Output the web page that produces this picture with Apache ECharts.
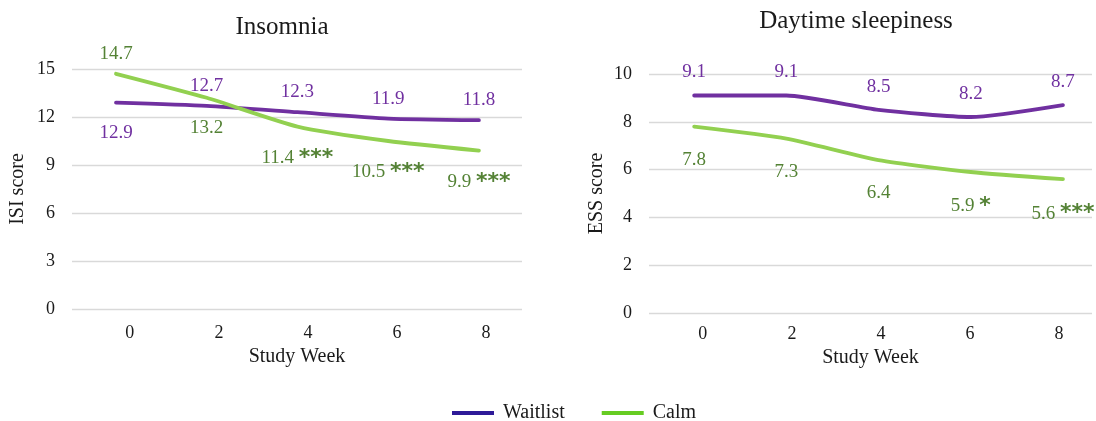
<!DOCTYPE html>
<html><head><meta charset="utf-8">
<script src="https://cdn.jsdelivr.net/npm/echarts@6/dist/echarts.min.js"></script>
<style>html,body{margin:0;padding:0;background:#fff}#c{width:1096px;height:421px}</style>
</head><body><div id="c"></div>
<script>
// ---- data ----
const weeks = [0, 2, 4, 6, 8];
const isiWaitlist = [12.9, 12.7, 12.3, 11.9, 11.8];
const isiCalm = [14.7, 13.2, 11.4, 10.5, 9.9];
const isiCalmSig = ['', '', '***', '***', '***'];
const isiWaitlistSig = ['', '', '', '', ''];
const essWaitlist = [9.1, 9.1, 8.5, 8.2, 8.7];
const essCalm = [7.8, 7.3, 6.4, 5.9, 5.6];
const essCalmSig = ['', '', '', '*', '***'];
const essWaitlistSig = ['', '', '', '', ''];
const isiTicks = [0, 3, 6, 9, 12, 15];
const essTicks = [0, 2, 4, 6, 8, 10];
const titles = ['Insomnia', 'Daytime sleepiness'];
const yNames = ['ISI score', 'ESS score'];
const xName = 'Study Week';
const seriesNames = ['Waitlist', 'Calm'];

// ---- styles ----
const SERIF = '"Liberation Serif", "Times New Roman", serif';
const PURPLE = '#7030A0', GREEN = '#92D050';
const PURPLE_TXT = '#7030A0', GREEN_TXT = '#548235';
const TXT = '#1a1a1a';

const chart = echarts.init(document.getElementById('c'), null, {renderer: 'canvas'});

function mkSeries(name, vals, sig, gi, color, tcolor, pos, dTop, dBot, starDx) {
  return {
    type: 'line', name: name, xAxisIndex: gi * 2, yAxisIndex: gi,
    data: vals.map((v, i) => ({
      value: [weeks[i], v],
      label: {position: pos[i], distance: pos[i] === 'top' ? dTop : dBot,
              offset: sig[i] ? [starDx, 0] : [0, 0]}
    })),
    showSymbol: true, showAllSymbol: true, symbol: 'circle', symbolSize: 1, smooth: 0.2,
    lineStyle: {color: color, width: 3.8, cap: 'round'},
    itemStyle: {color: color, borderWidth: 0},
    label: {
      show: true, color: tcolor, fontFamily: SERIF, fontSize: 19,
      formatter: p => {
        const i = p.dataIndex;
        const t = p.value[1].toFixed(1);
        return sig[i] ? t + ' {s|' + sig[i] + '}' : t;
      },
      rich: {s: {fontFamily: '"DejaVu Sans", sans-serif', fontWeight: 'bold', fontSize: 22, color: tcolor}}
    },
    labelLayout: {hideOverlap: false},
    emphasis: {disabled: true}, animation: false
  };
}

function yAxis(gi, ticks, nameGap) {
  return {
    type: 'value', gridIndex: gi, min: ticks[0], max: ticks[ticks.length - 1],
    interval: ticks[1] - ticks[0],
    name: yNames[gi], nameLocation: 'middle', nameGap: nameGap, nameRotate: 90,
    nameTextStyle: {fontFamily: SERIF, fontSize: 20, color: TXT},
    axisLine: {show: false}, axisTick: {show: false},
    axisLabel: {fontFamily: SERIF, fontSize: 18, color: TXT, margin: 17},
    splitLine: {lineStyle: {color: '#d9d9d9', width: 1.3}}
  };
}
function xDataAxis(gi, min, max) {
  return {type: 'value', gridIndex: gi, min: min, max: max, show: false};
}
function xLabelAxis(gi, min, max, nameGap, margin) {
  return {
    type: 'value', gridIndex: gi, min: min, max: max, position: 'bottom',
    name: xName, nameLocation: 'middle', nameGap: nameGap,
    nameTextStyle: {fontFamily: SERIF, fontSize: 20, color: TXT},
    axisLine: {show: false}, axisTick: {show: false}, splitLine: {show: false},
    axisLabel: {customValues: weeks, fontFamily: SERIF, fontSize: 18, color: TXT, margin: margin}
  };
}

const leftWaitPos = ['bottom', 'top', 'top', 'top', 'top'];
const leftCalmPos = ['top', 'bottom', 'bottom', 'bottom', 'bottom'];
const rightWaitPos = ['top', 'top', 'top', 'top', 'top'];
const rightCalmPos = ['bottom', 'bottom', 'bottom', 'bottom', 'bottom'];

const option = {
  backgroundColor: '#fff',
  animation: false,
  graphic: [
    {type: 'text', x: 282, y: 27, style: {text: titles[0], font: '25px ' + SERIF, fill: TXT, textAlign: 'center', textVerticalAlign: 'middle'}},
    {type: 'text', x: 856, y: 21, style: {text: titles[1], font: '25px ' + SERIF, fill: TXT, textAlign: 'center', textVerticalAlign: 'middle'}}
  ],
  grid: [
    {left: 72, top: 69, width: 450, height: 240, containLabel: false},
    {left: 649, top: 74, width: 443, height: 239, containLabel: false}
  ],
  xAxis: [
    xDataAxis(0, -0.97, 8.95), xLabelAxis(0, -1.30, 8.81, 36, 15),
    xDataAxis(1, -0.98, 8.63), xLabelAxis(1, -1.21, 8.74, 32, 12)
  ],
  yAxis: [yAxis(0, isiTicks, 44), yAxis(1, essTicks, 42)],
  legend: {
    left: 447, top: 398, icon: 'rect', itemWidth: 42, itemHeight: 4, itemGap: 37,
    textStyle: {fontFamily: SERIF, fontSize: 20, color: TXT, padding: [0, 0, 0, 4]},
    data: [
      {name: seriesNames[0], itemStyle: {color: '#2E1A98'}},
      {name: seriesNames[1], itemStyle: {color: '#66CC22'}}
    ]
  },
  series: [
    mkSeries(seriesNames[0], isiWaitlist, isiWaitlistSig, 0, PURPLE, PURPLE_TXT, leftWaitPos, 10, 20, 0),
    mkSeries(seriesNames[1], isiCalm, isiCalmSig, 0, GREEN, GREEN_TXT, leftCalmPos, 10, 20, -10),
    mkSeries(seriesNames[0], essWaitlist, essWaitlistSig, 1, PURPLE, PURPLE_TXT, rightWaitPos, 13, 23, 0),
    mkSeries(seriesNames[1], essCalm, essCalmSig, 1, GREEN, GREEN_TXT, rightCalmPos, 13, 23, 0)
  ]
};
chart.setOption(option);
</script>
</body></html>
